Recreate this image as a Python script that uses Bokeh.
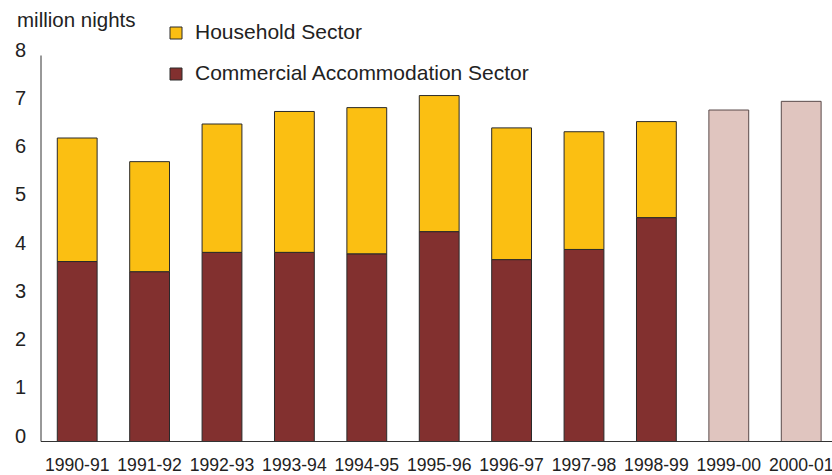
from bokeh.plotting import figure
from bokeh.models import Range1d, Legend, LegendItem, ColumnDataSource
from bokeh.core.properties import value
from bokeh.embed import file_html
from bokeh.resources import INLINE

years = ["1990-91", "1991-92", "1992-93", "1993-94", "1994-95", "1995-96",
         "1996-97", "1997-98", "1998-99", "1999-00", "2000-01"]
commercial = [3.73, 3.52, 3.92, 3.92, 3.89, 4.35, 3.77, 3.98, 4.64]
household = [2.56, 2.28, 2.66, 2.92, 3.03, 2.82, 2.73, 2.44, 1.99]
forecast_total = [6.87, 7.05]
y_ticks = [0, 1, 2, 3, 4, 5, 6, 7, 8]

YELLOW = "#FBBF12"
MAROON = "#82302F"
PINK = "#E0C5BF"
TEXT = "#222222"
FONT = value("Liberation Sans")

n_actual = len(commercial)
x_actual = list(range(1, n_actual + 1))
x_fore = list(range(n_actual + 1, len(years) + 1))
x_all = list(range(1, len(years) + 1))

src = ColumnDataSource(dict(x=x_actual, commercial=commercial, household=household))

# frame spans the whole canvas; axis lines and labels are drawn in data space
px_per_x = 72.4
px_per_y = 48.25
x0 = 0.5 - 40.5 / px_per_x
y0 = -34.0 / px_per_y
p = figure(width=832, height=475, output_backend="svg", toolbar_location=None,
           x_range=Range1d(x0, x0 + 832 / px_per_x),
           y_range=Range1d(y0, y0 + 475 / px_per_y),
           min_border=0)
p.axis.visible = False
p.outline_line_color = None
p.grid.visible = False

rs = p.vbar_stack(["commercial", "household"], x="x", width=0.55, source=src,
                  fill_color=[MAROON, YELLOW], line_color="#2a2a2a", line_width=1)
p.vbar(x=x_fore, top=forecast_total, width=0.55, fill_color=PINK,
       line_color="#5a4a4a", line_width=1)

# axis lines
p.segment(x0=[0.5], y0=[0], x1=[0.5], y1=[max(y_ticks)], line_color="#333333", line_width=1)
p.segment(x0=[0.5], y0=[0], x1=[x0 + 832 / px_per_x], y1=[0], line_color="#333333", line_width=1)

# y tick labels
p.text(x=[0.5] * len(y_ticks), y=y_ticks, text=[str(t) for t in y_ticks],
       x_offset=-15, y_offset=-6, text_align="right", text_baseline="alphabetic",
       text_font=FONT, text_font_size="20px", text_color=TEXT)

# x tick labels
p.text(x=x_all, y=[0] * len(x_all), text=years, y_offset=23,
       text_align="center", text_baseline="alphabetic",
       text_font=FONT, text_font_size="17.6px", text_color=TEXT)

# unit label
p.text(x=[0.5], y=[max(y_ticks)], text=["million nights"], x_offset=-24, y_offset=-36,
       text_align="left", text_baseline="alphabetic",
       text_font=FONT, text_font_size="20.5px", text_color=TEXT)

legend = Legend(items=[LegendItem(label="Household Sector", renderers=[rs[1]]),
                       LegendItem(label="Commercial Accommodation Sector", renderers=[rs[0]])],
                location=(168, 390), orientation="vertical",
                glyph_width=15, glyph_height=15, label_standoff=12, spacing=17,
                padding=0, margin=0, border_line_color=None, background_fill_alpha=0,
                label_text_font="Liberation Sans", label_text_font_size="21px",
                label_text_color=TEXT)
p.add_layout(legend, "center")

open("out.html", "w").write(file_html(p, INLINE))
